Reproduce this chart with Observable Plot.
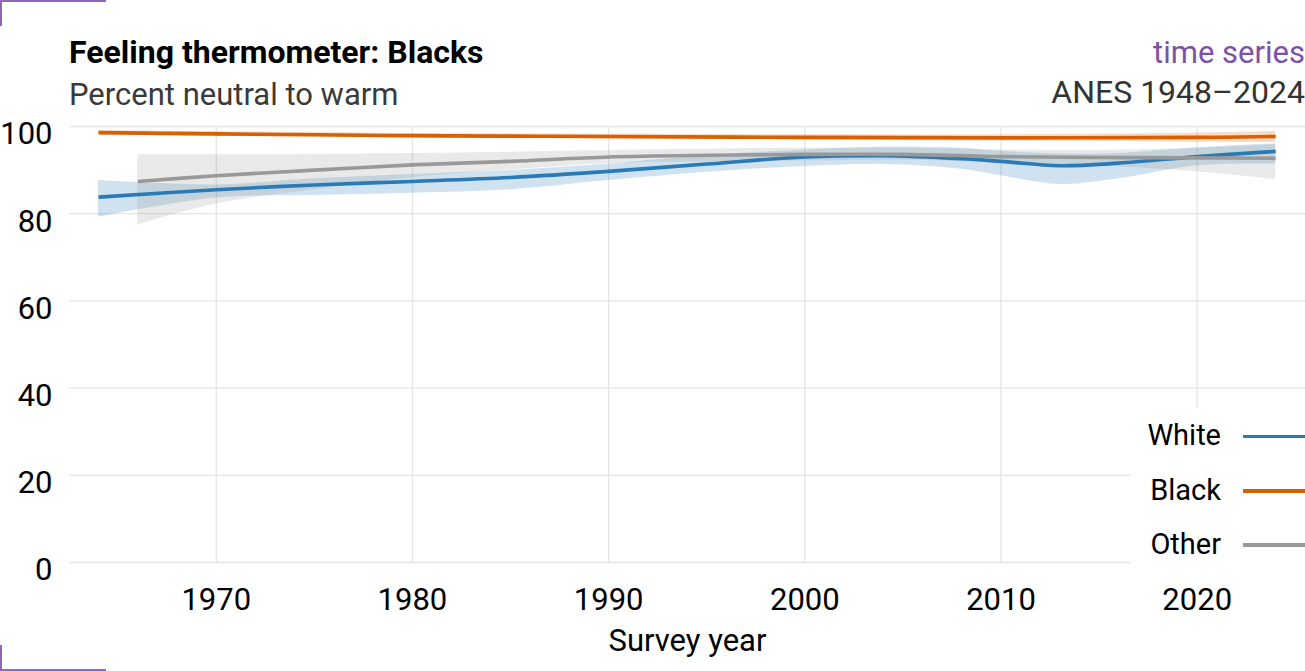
<!DOCTYPE html>
<html>
<head>
<meta charset="utf-8">
<script src="https://cdn.jsdelivr.net/npm/d3@7"></script>
<script src="https://cdn.jsdelivr.net/npm/@observablehq/plot@0.6"></script>
<style>
  html, body { margin: 0; padding: 0; background: #fff; }
  #wrap { position: relative; width: 1305px; height: 671px; overflow: hidden; font-family: Roboto, sans-serif; }
  .t { position: absolute; line-height: 1; white-space: nowrap; }
  #title { left: 69px; top: 36px; font-size: 32px; font-weight: bold; color: #000; }
  #subtitle { left: 69px; top: 79px; font-size: 31px; color: #3a3a3a; }
  #kind { right: 0px; top: 37px; font-size: 31px; color: #7b52a6; }
  #source { right: 0px; top: 76px; font-size: 32px; color: #333; }
  #header { position: relative; height: 115px; }
  .corner { position: absolute; border-color: #8e67b6; border-style: solid; width: 104px; height: 24px; }
  #ctl { left: 0; top: 0; border-width: 2px 0 0 2px; }
  #cbl { left: 0; top: 645px; border-width: 0 0 2px 2px; }
  #legend { position: absolute; left: 1131px; top: 408px; width: 174px; height: 170px; background: #fff; }
  .lrow { position: absolute; left: 0; width: 174px; height: 40px; }
  .lrow span { position: absolute; right: 84px; line-height: 1; font-size: 29px; color: #000; }
  .lrow i { position: absolute; left: 112px; width: 62px; height: 3.5px; }
</style>
</head>
<body>
<div id="wrap">
  <div id="header">
    <div class="t" id="title">Feeling thermometer: Blacks</div>
    <div class="t" id="subtitle">Percent neutral to warm</div>
    <div class="t" id="kind">time series</div>
    <div class="t" id="source">ANES 1948–2024</div>
  </div>
  <div id="chart"></div>
  <div id="legend"></div>
  <div class="corner" id="ctl"></div>
  <div class="corner" id="cbl"></div>
</div>
<script>
// ---- data ----
const groups = ["White", "Black", "Other"];
const groupColors = ["#2a7ab6", "#d95f02", "#999999"];

const whiteYears = [1964, 1970, 1975, 1980, 1985, 1990, 1995, 2000, 2004, 2008, 2010, 2013, 2016, 2020, 2024];
const whiteValue = [83.8, 85.5, 86.6, 87.4, 88.3, 89.7, 91.4, 93.0, 93.3, 92.6, 92.0, 91.0, 91.6, 93.1, 94.3];
const whiteLow   = [79.2, 83.6, 84.2, 84.7, 85.5, 87.6, 89.5, 90.8, 91.3, 90.2, 88.7, 86.7, 88.0, 91.0, 91.4];
const whiteHigh  = [87.6, 86.6, 88.0, 89.0, 89.9, 91.4, 93.3, 94.6, 95.3, 95.0, 94.3, 93.7, 93.8, 95.1, 96.0];

const blackYears = [1964, 1970, 1975, 1980, 1985, 1990, 2000, 2010, 2020, 2024];
const blackValue = [98.6, 98.3, 98.1, 97.9, 97.8, 97.7, 97.5, 97.4, 97.5, 97.7];
const blackLow   = [98.0, 97.8, 97.6, 97.4, 97.3, 97.1, 96.9, 96.7, 96.4, 96.3];
const blackHigh  = [99.1, 98.8, 98.6, 98.4, 98.3, 98.3, 98.1, 98.1, 98.5, 98.9];

const otherYears = [1966, 1970, 1975, 1980, 1985, 1990, 1995, 2000, 2005, 2010, 2015, 2020, 2024];
const otherValue = [87.4, 88.7, 90.0, 91.2, 92.0, 93.0, 93.4, 93.6, 93.6, 93.1, 92.9, 92.8, 92.7];
const otherLow   = [77.4, 82.2, 85.5, 88.3, 90.0, 91.5, 91.9, 92.1, 92.3, 91.6, 91.0, 89.6, 87.8];
const otherHigh  = [93.5, 93.5, 93.6, 93.8, 94.1, 94.5, 94.8, 95.0, 95.0, 94.6, 94.5, 95.0, 95.8];

const xTicks = [1970, 1980, 1990, 2000, 2010, 2020];
const yTicks = [0, 20, 40, 60, 80, 100];
const xLabel = "Survey year";

// ---- build tables ----
function table(group, years, value, low, high) {
  return years.map((year, i) => ({group, year, value: value[i], low: low[i], high: high[i]}));
}
const rows = [
  ...table("White", whiteYears, whiteValue, whiteLow, whiteHigh),
  ...table("Black", blackYears, blackValue, blackLow, blackHigh),
  ...table("Other", otherYears, otherValue, otherLow, otherHigh)
];

const colorScale = {domain: groups, range: groupColors};
const curve = "catmull-rom";

const chart = Plot.plot({
  width: 1305,
  height: 556,
  marginTop: 11,
  marginBottom: 109,
  marginLeft: 69,
  marginRight: 0,
  style: {fontFamily: "Roboto, sans-serif", fontSize: "31px", color: "#000", background: "transparent", overflow: "visible"},
  x: {domain: [1962.52, 2025.52]},
  y: {domain: [0, 100]},
  color: colorScale,
  marks: [
    Plot.gridY(yTicks, {stroke: "#e5e5e5", strokeOpacity: 1, strokeWidth: 1.3}),
    Plot.gridX(xTicks, {stroke: "#e5e5e5", strokeOpacity: 1, strokeWidth: 1.3}),
    Plot.areaY(rows, {x: "year", y1: "low", y2: "high", z: "group", fill: "group", fillOpacity: 0.22, curve}),
    Plot.lineY(rows, {x: "year", y: "value", z: "group", stroke: "group", strokeWidth: 3.6, curve, strokeLinecap: "butt"}),
    Plot.axisX(xTicks, {tickSize: 0, tickPadding: 25, tickFormat: d => String(d), fontSize: 31, fill: "#000", label: null}),
    Plot.axisY(yTicks, {tickSize: 0, tickPadding: 17, dy: 8, fontSize: 31, fill: "#000", label: null}),
    Plot.text([xLabel], {frameAnchor: "bottom", text: d => d, dy: 88, lineAnchor: "bottom", fontSize: 31, fill: "#000"})
  ]
});
document.getElementById("chart").appendChild(chart);

// ---- legend ----
const legend = document.getElementById("legend");
const rowTops = [13, 67.5, 121.5];
groups.forEach((g, i) => {
  const row = document.createElement("div");
  row.className = "lrow";
  row.style.top = rowTops[i] + "px";
  const s = document.createElement("span");
  s.textContent = g;
  s.style.top = "0px";
  const line = document.createElement("i");
  line.style.top = "13.5px";
  line.style.background = groupColors[i];
  row.appendChild(s);
  row.appendChild(line);
  legend.appendChild(row);
});
</script>
</body>
</html>
